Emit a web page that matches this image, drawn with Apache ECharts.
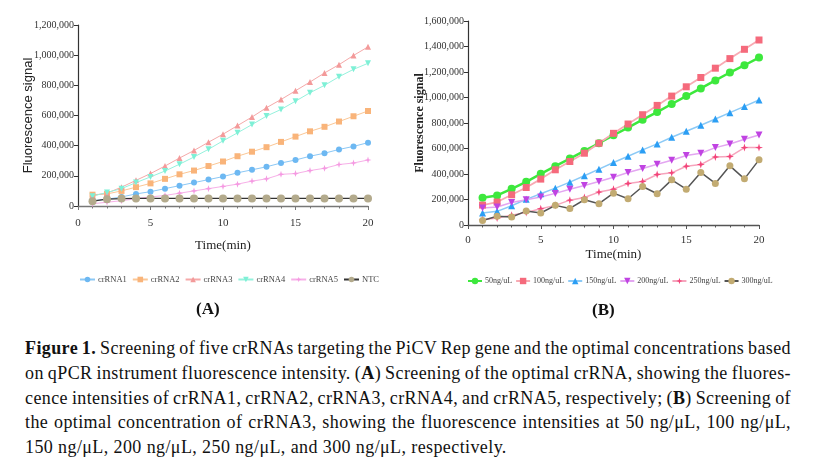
<!DOCTYPE html>
<html lang="en">
<head>
    <meta charset="UTF-8">
    <title>Figure 1</title>
    <script src="https://cdn.jsdelivr.net/npm/echarts/dist/echarts.min.js"></script>
    <style>
        body {
            margin: 0;
            background: #fff;
            width: 826px;
            height: 467px;
            position: relative;
            overflow: hidden;
        }
        #chart {
            position: absolute;
            left: 0;
            top: 0;
            width: 826px;
            height: 330px;
        }
        #caption {
            position: absolute;
            left: 25px;
            top: 336px;
            width: 766px;
            font-family: "Liberation Serif", serif;
            font-size: 18px;
            letter-spacing: 0.4px;
            line-height: 24.8px;
            color: #111;
        }
        #caption div {
            white-space: nowrap;
            text-align: justify;
            text-align-last: justify;
            word-spacing: -2.5px;
        }
        #caption div.last {
            text-align-last: left;
            word-spacing: 0;
        }
    </style>
</head>
<body>
    <div id="chart"></div>
    <div id="caption">
        <div><b>Figure 1.</b> Screening of five crRNAs targeting the PiCV Rep gene and the optimal concentrations based</div>
        <div>on qPCR instrument fluorescence intensity. (<b>A</b>) Screening of the optimal crRNA, showing the fluores-</div>
        <div>cence intensities of crRNA1, crRNA2, crRNA3, crRNA4, and crRNA5, respectively; (<b>B</b>) Screening of</div>
        <div>the optimal concentration of crRNA3, showing the fluorescence intensities at 50 ng/&mu;L, 100 ng/&mu;L,</div>
        <div class="last">150 ng/&mu;L, 200 ng/&mu;L, 250 ng/&mu;L, and 300 ng/&mu;L, respectively.</div>
    </div>

    <script>
        // time points (min)
        const minutes = [1, 2, 3, 4, 5, 6, 7, 8, 9, 10, 11, 12, 13, 14, 15, 16, 17, 18, 19, 20];

        // panel A: crRNA screening
        const crRNA1 = [35000, 45000, 60000, 80000, 95000, 115000, 135000, 155000, 175000, 195000, 220000, 240000, 260000, 285000, 305000, 330000, 350000, 375000, 395000, 420000];
        const crRNA2 = [75000, 80000, 100000, 125000, 150000, 180000, 210000, 235000, 265000, 295000, 330000, 360000, 390000, 425000, 460000, 495000, 525000, 560000, 595000, 630000];
        const crRNA3 = [70000, 85000, 125000, 170000, 215000, 265000, 318000, 368000, 423000, 476000, 533000, 590000, 652000, 706000, 764000, 822000, 882000, 937000, 998000, 1055000];
        const crRNA4 = [65000, 90000, 115000, 155000, 193000, 232000, 277000, 325000, 376000, 432000, 485000, 540000, 596000, 640000, 695000, 751000, 800000, 857000, 906000, 946000];
        const crRNA5 = [15000, 25000, 35000, 48000, 60000, 70000, 85000, 100000, 115000, 130000, 145000, 165000, 180000, 210000, 215000, 235000, 250000, 275000, 285000, 305000];
        const ntc = [32000, 45000, 49000, 50000, 50000, 50000, 50000, 50000, 50000, 50000, 50000, 50000, 50000, 50000, 50000, 50000, 50000, 50000, 50000, 50000];

        // panel B: crRNA3 concentrations
        const ng50 = [214000, 232000, 284000, 339000, 401000, 461000, 521000, 581000, 641000, 704000, 764000, 826000, 886000, 949000, 1011000, 1071000, 1134000, 1196000, 1253000, 1313000];
        const ng100 = [156000, 180000, 237000, 294000, 360000, 433000, 498000, 563000, 641000, 719000, 792000, 865000, 938000, 1011000, 1084000, 1157000, 1230000, 1305000, 1378000, 1451000];
        const ng150 = [94000, 107000, 151000, 201000, 245000, 289000, 336000, 386000, 438000, 490000, 539000, 589000, 636000, 688000, 735000, 782000, 831000, 881000, 930000, 980000];
        const ng200 = [133000, 141000, 177000, 198000, 219000, 248000, 281000, 310000, 341000, 375000, 412000, 443000, 477000, 508000, 545000, 563000, 607000, 636000, 672000, 706000];
        const ng250 = [42000, 55000, 76000, 99000, 128000, 154000, 195000, 216000, 258000, 281000, 326000, 341000, 396000, 409000, 461000, 474000, 534000, 537000, 607000, 607000];
        const ng300 = [36000, 68000, 63000, 109000, 94000, 154000, 130000, 198000, 167000, 250000, 206000, 302000, 245000, 354000, 281000, 412000, 326000, 464000, 362000, 511000];

        const namesA = ['crRNA1', 'crRNA2', 'crRNA3', 'crRNA4', 'crRNA5', 'NTC'];
        const namesB = ['50ng/uL', '100ng/uL', '150ng/uL', '200ng/uL', '250ng/uL', '300ng/uL'];

        const serif = '"Liberation Serif", "Times New Roman", serif';
        const downTri = 'path://M0,0 L10,0 L5,9 Z';
        const star = 'path://M5,0 L6.2,3.8 L10,5 L6.2,6.2 L5,10 L3.8,6.2 L0,5 L3.8,3.8 Z';

        const pairs = arr => arr.map((v, i) => [minutes[i], v]);
        const fmt = v => v.toLocaleString('en-US');

        function makeSeries(name, data, idx, symbol, size, markerColor, lineColor, lineWidth) {
            return {
                name: name,
                type: 'line',
                xAxisIndex: idx,
                yAxisIndex: idx,
                data: pairs(data),
                symbol: symbol,
                symbolSize: size,
                showSymbol: true,
                animation: false,
                itemStyle: { color: markerColor, borderWidth: 0 },
                lineStyle: { color: lineColor, width: lineWidth }
            };
        }

        function xAxis(idx, gap, color, margin) {
            return {
                type: 'value',
                gridIndex: idx,
                min: 0,
                max: 20,
                interval: 5,
                name: 'Time(min)',
                nameLocation: 'middle',
                nameGap: gap,
                nameMoveOverlap: false,
                nameTextStyle: { fontFamily: serif, fontSize: 13, color: '#222' },
                axisLine: { show: true, onZero: false, lineStyle: { color: color, width: 1.3 } },
                axisTick: { show: true, length: 4, lineStyle: { color: color } },
                minorTick: { show: true, splitNumber: 5, length: 2.5, lineStyle: { color: color } },
                axisLabel: { fontFamily: serif, fontSize: 11, color: '#333', margin: margin },
                splitLine: { show: false }
            };
        }

        function yAxis(idx, max, gap, nameStyle) {
            return {
                type: 'value',
                gridIndex: idx,
                min: 0,
                max: max,
                interval: 200000,
                name: 'Fluorescence signal',
                nameLocation: 'middle',
                nameGap: gap,
                nameMoveOverlap: false,
                nameTextStyle: nameStyle,
                axisLine: { show: true, lineStyle: { color: '#333', width: 1.2 } },
                axisTick: { show: true, length: 4, lineStyle: { color: '#333' } },
                axisLabel: { fontFamily: serif, fontSize: 10, color: '#333', margin: 4, formatter: fmt },
                splitLine: { show: false }
            };
        }

        const legendText = size => ({ fontFamily: serif, fontSize: size, color: '#444', padding: [0, 0, 0, -2] });
        const titleRich = { p: { fontFamily: serif, fontSize: 17, color: '#111' }, b: { fontFamily: serif, fontSize: 17, fontWeight: 'bold', color: '#111' } };

        const chart = echarts.init(document.getElementById('chart'));

        const option = {
            backgroundColor: '#fff',
            animation: false,
            grid: [
                { left: 78, top: 25, width: 290, height: 181, outerBoundsMode: 'none' },
                { left: 468, top: 21, width: 291, height: 204, outerBoundsMode: 'none' }
            ],
            xAxis: [xAxis(0, 33, '#777', 12), xAxis(1, 23, '#555', 10)],
            yAxis: [
                yAxis(0, 1200000, 43, { fontFamily: 'Liberation Sans, Arial, sans-serif', fontSize: 13, color: '#222' }),
                yAxis(1, 1600000, 42, { fontFamily: serif, fontSize: 12, fontWeight: 'bold', color: '#222' })
            ],
            legend: [
                {
                    data: namesA,
                    left: 74,
                    top: 270,
                    itemWidth: 15,
                    itemHeight: 7,
                    itemGap: 5,
                    textStyle: legendText(8.5)
                },
                {
                    data: namesB,
                    left: 462,
                    top: 272,
                    itemWidth: 14,
                    itemHeight: 8,
                    itemGap: 3,
                    textStyle: legendText(8)
                }
            ],
            title: [
                { text: '{p|(}{b|A}{p|)}', left: 191, top: 296, textStyle: { rich: titleRich } },
                { text: '{p|(}{b|B}{p|)}', left: 587, top: 297, textStyle: { rich: titleRich } }
            ],
            series: [
                makeSeries('crRNA1', crRNA1, 0, 'circle', 6, '#6db8f2', '#8cc8f5', 1),
                makeSeries('crRNA2', crRNA2, 0, 'rect', 6, '#f9b47a', '#fbc796', 1),
                makeSeries('crRNA3', crRNA3, 0, 'triangle', 6, '#f39a9a', '#f5a9a9', 1),
                makeSeries('crRNA4', crRNA4, 0, downTri, 6, '#7ef0d6', '#95f2dd', 1),
                makeSeries('crRNA5', crRNA5, 0, star, 7, '#f59ae2', '#f7b0e8', 1),
                makeSeries('NTC', ntc, 0, 'circle', 8, '#b3aa8c', '#333', 1.3),
                makeSeries('50ng/uL', ng50, 1, 'circle', 8, '#3de83d', '#3de83d', 2.5),
                makeSeries('100ng/uL', ng100, 1, 'rect', 7, '#f56a7c', '#f8aab3', 1.8),
                makeSeries('150ng/uL', ng150, 1, 'triangle', 7, '#2b9ef4', '#8ccaf6', 1.5),
                makeSeries('200ng/uL', ng200, 1, downTri, 7, '#c043e2', '#e3a6f1', 1.5),
                makeSeries('250ng/uL', ng250, 1, star, 8, '#f3457a', '#f6a5bd', 1.5),
                makeSeries('300ng/uL', ng300, 1, 'circle', 7, '#c2ab72', '#555', 1.5)
            ]
        };

        chart.setOption(option);
    </script>
</body>
</html>
